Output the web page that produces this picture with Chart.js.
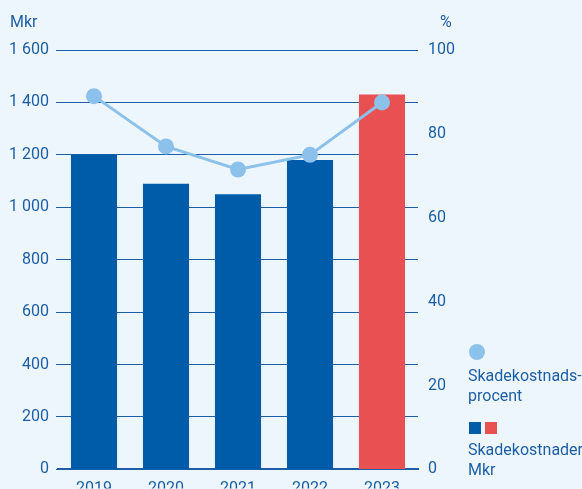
<!DOCTYPE html>
<html>
<head>
<meta charset="utf-8">
<script src="https://cdn.jsdelivr.net/npm/chart.js@4"></script>
<style>
  html, body { margin: 0; padding: 0; background: #eef6fd; }
  #wrap { position: relative; width: 582px; height: 489px; overflow: hidden; }
  #chart { position: absolute; left: 0; top: 0; }
  .txt { position: absolute; font-family: Roboto, sans-serif; font-size: 16px; color: #1d5fa7; line-height: 20px; white-space: nowrap; }
  .dot { position: absolute; width: 16px; height: 16px; border-radius: 50%; background: #8cc1ec; }
  .sq { position: absolute; width: 12px; height: 12px; }
</style>
</head>
<body>
<div id="wrap">
  <canvas id="chart" width="582" height="489"></canvas>
  <div class="txt" style="left:10px; top:12px;">Mkr</div>
  <div class="txt" style="left:440px; top:12px;">%</div>
  <div class="dot" style="left:469px; top:344px;"></div>
  <div class="txt" style="left:468px; top:366px;">Skadekostnads-<br>procent</div>
  <div class="sq" style="left:469px; top:422px; background:#005ca9;"></div>
  <div class="sq" style="left:485px; top:422px; background:#e85052;"></div>
  <div class="txt" style="left:468px; top:440px;">Skadekostnader<br>Mkr</div>
</div>
<script>
const years = ['2019', '2020', '2021', '2022', '2023'];
const costs = [1200, 1090, 1050, 1180, 1430];
const costPercent = [89, 77, 71.5, 75, 87.5];
const barColors = ['#005ca9', '#005ca9', '#005ca9', '#005ca9', '#e85052'];

const textColor = '#1d5fa7';
const gridColor = '#1a5fa8';

function spaced(v) {
    return String(v).replace(/\B(?=(\d{3})+(?!\d))/g, ' ');
}

const ctx = document.getElementById('chart').getContext('2d');
new Chart(ctx, {
    type: 'bar',
    data: {
        labels: years,
        datasets: [{
            type: 'line',
            label: 'Skadekostnadsprocent',
            data: costPercent,
            yAxisID: 'y1',
            borderColor: '#8cc1ec',
            backgroundColor: '#8cc1ec',
            borderWidth: 3,
            pointRadius: 8,
            pointHoverRadius: 8,
            pointBorderWidth: 0,
            order: 0
        }, {
            label: 'Skadekostnader Mkr',
            data: costs,
            yAxisID: 'y',
            backgroundColor: barColors,
            barPercentage: 0.64,
            categoryPercentage: 1,
            order: 1
        }]
    },
    options: {
        responsive: false,
        animation: false,
        layout: { padding: { top: 50, right: 118, left: 0, bottom: 0 } },
        plugins: { legend: { display: false }, tooltip: { enabled: false } },
        scales: {
            x: {
                grid: { display: false },
                border: { display: true, color: gridColor, width: 2 },
                ticks: { color: textColor, font: { family: 'Roboto', size: 16 }, padding: 2 },
                afterFit: scale => { scale.height = 19; }
            },
            y: {
                position: 'left',
                min: 0, max: 1600,
                ticks: { stepSize: 200, color: textColor, font: { family: 'Roboto', size: 16 }, padding: 7, callback: v => spaced(v) },
                grid: { color: gridColor, lineWidth: 1, drawTicks: true, tickLength: 2 },
                border: { display: false },
                afterFit: scale => { scale.width = 58; }
            },
            y1: {
                position: 'right',
                min: 0, max: 100,
                ticks: { stepSize: 20, color: textColor, font: { family: 'Roboto', size: 16 }, padding: 10 },
                grid: { drawOnChartArea: false, drawTicks: false },
                border: { display: false },
                afterFit: scale => { scale.width = 46; }
            }
        }
    }
});
</script>
</body>
</html>
